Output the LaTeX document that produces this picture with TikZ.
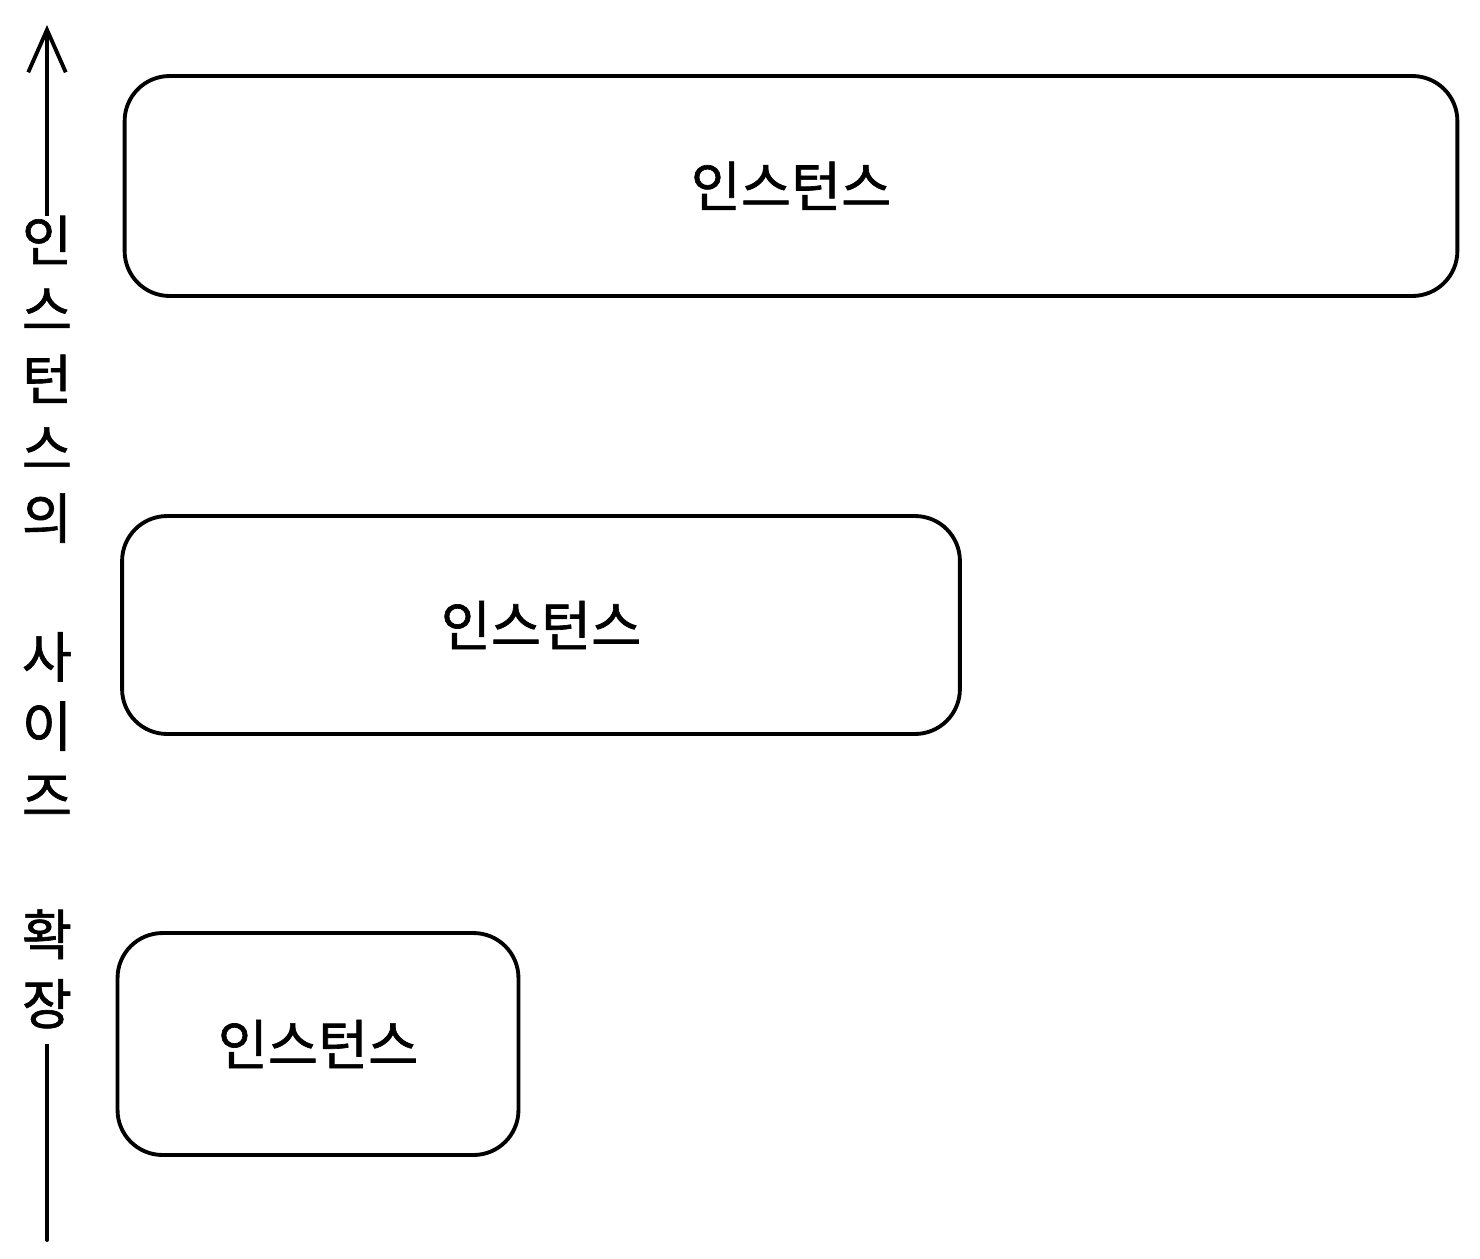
\documentclass[tikz,border=0pt]{standalone}
\usepackage{fontspec}
\newfontfamily\krfont[FakeBold=1.2]{Noto Sans CJK KR}
\usetikzlibrary{arrows.meta}
\tikzset{
  instBox/.style={draw,line width=2.2pt,rounded corners=0.9cm,inner sep=0pt,
    font=\krfont\fontsize{31}{39}\selectfont},
  sizeArrow/.style={-{Straight Barb[length=8.5mm,width=7.5mm,line width=2.2pt]},line width=2.2pt,line cap=round},
  sizeLabel/.style={fill=white,align=center,inner sep=0pt,yshift=0.05cm,
    font=\krfont\fontsize{31}{39.5}\selectfont}
}
\begin{document}
\begin{tikzpicture}[x=0.02cm,y=-0.02cm]
  \useasboundingbox (0,0) rectangle (1480,1258);
  % boxes, largest at the top
  \node[instBox,minimum width=26.66cm,minimum height=4.4cm] (large) at (791,186) {\raisebox{2pt}{인스턴스}};
  \node[instBox,minimum width=16.76cm,minimum height=4.36cm] (mid) at (541,625) {인스턴스};
  \node[instBox,minimum width=8.02cm,minimum height=4.44cm] (small) at (318,1044) {인스턴스};
  % size axis
  \coordinate (axisBot) at (47,1240);
  \coordinate (axisTop) at (47,25);
  \draw[sizeArrow] (axisBot) -- node[sizeLabel] {인\\스\\턴\\스\\의\\\mbox{}\\사\\이\\즈\\\mbox{}\\확\\장\rule[-0.4cm]{0pt}{0pt}} (axisTop);
\end{tikzpicture}
\end{document}
